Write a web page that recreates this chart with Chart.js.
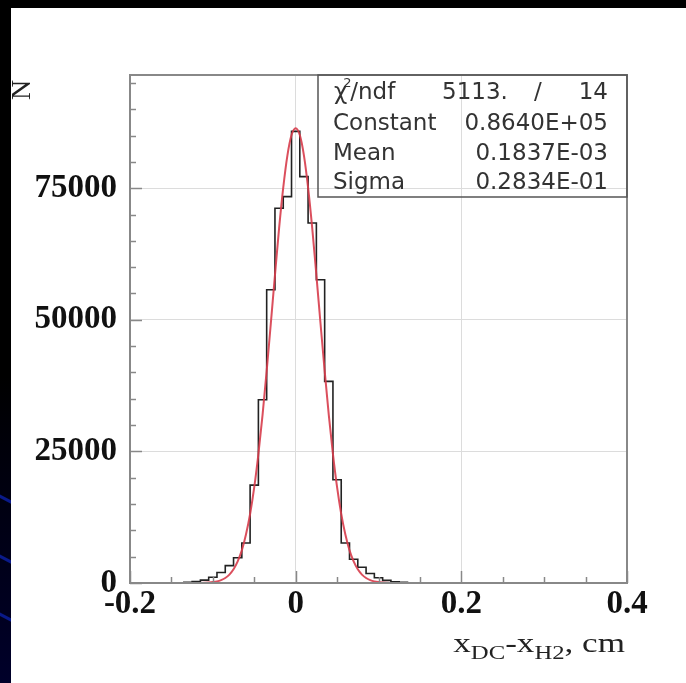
<!DOCTYPE html>
<html>
<head>
<meta charset="utf-8">
<script src="https://cdn.jsdelivr.net/npm/chart.js@4.4.0/dist/chart.umd.min.js"></script>
<style>
    body { margin: 0; width: 686px; height: 683px; background: #000; overflow: hidden; position: relative; }
    #strip { position: absolute; left: 0; top: 0; width: 11px; height: 683px; overflow: hidden;
             background: linear-gradient(#000 0%, #000 55%, #00002a 100%); }
    .streak { position: absolute; left: -10px; width: 40px; height: 3px; background: #0a1a8a; transform: rotate(28deg); }
    #panel { position: absolute; left: 11px; top: 8px; right: 0; bottom: 0; background: #fff; }
    #chart { position: absolute; left: 0; top: 0; }
</style>
</head>
<body>
<div id="strip">
    <div class="streak" style="top:500px"></div>
    <div class="streak" style="top:560px"></div>
    <div class="streak" style="top:618px"></div>
</div>
<div id="panel"></div>
<canvas id="chart" width="686" height="683"></canvas>
<script>
// Trục
const xMin = -0.2;
const xMax = 0.4;
const yMin = 0;
const yMax = 96500;
const xTicks = [-0.2, 0, 0.2, 0.4];
const yTicks = [0, 25000, 50000, 75000];

// Histogram: tâm bin (bề rộng 0.01) và số đếm
const binCenters = [-0.16, -0.15, -0.14, -0.13, -0.12, -0.11, -0.10, -0.09, -0.08, -0.07, -0.06,
    -0.05, -0.04, -0.03, -0.02, -0.01, 0, 0.01, 0.02, 0.03, 0.04, 0.05,
    0.06, 0.07, 0.08, 0.09, 0.10, 0.11, 0.12, 0.13, 0.14, 0.15, 0.16];
const binCounts = [0, 25, 60, 130, 280, 550, 1100, 2000, 3300, 4800, 7600,
    18600, 34800, 55700, 71200, 73400, 85800, 77200, 68400, 57600, 38300, 19600,
    7600, 4500, 3000, 1800, 1000, 500, 250, 120, 50, 20, 0];

// Đường fit (đỏ)
const fitX = [-0.13, -0.125, -0.12, -0.115, -0.11, -0.105, -0.1, -0.095, -0.09, -0.085, -0.08,
    -0.075, -0.07, -0.065, -0.06, -0.055, -0.05, -0.045, -0.04, -0.035, -0.03, -0.025,
    -0.02, -0.015, -0.01, -0.005, 0, 0.005, 0.01, 0.015, 0.02, 0.025, 0.03, 0.035,
    0.04, 0.045, 0.05, 0.055, 0.06, 0.065, 0.07, 0.075, 0.08, 0.085, 0.09, 0.095,
    0.1, 0.105, 0.11, 0.115, 0.12, 0.125, 0.13];
const fitY = [2, 5, 11, 22, 46, 90, 170, 310, 560, 950, 1600,
    2600, 4100, 6200, 9200, 13100, 18200, 24500, 31900, 40300, 49300, 58500,
    67400, 75100, 81200, 85100, 86400, 85100, 81200, 75100, 67400, 58500, 49300, 40300,
    31900, 24500, 18200, 13100, 9200, 6200, 4100, 2600, 1600, 950, 560, 310,
    170, 90, 46, 22, 11, 5, 2];

// Bảng thống kê
const statLabels = ['Constant', 'Mean', 'Sigma'];
const statValues = ['0.8640E+05', '0.1837E-03', '0.2834E-01'];
const chi2Value = '5113.';
const ndfValue = '14';

const serif = "'Liberation Serif', 'Times New Roman', serif";
const sans = "'DejaVu Sans', 'Liberation Sans', sans-serif";

function histPoints() {
    const pts = [{ x: xMin, y: 0 }];
    binCenters.forEach((x, i) => pts.push({ x: x, y: binCounts[i] }));
    pts.push({ x: xMax, y: 0 });
    return pts;
}

// Vẽ khung, vạch phụ, tiêu đề trục và hộp thống kê
const decorPlugin = {
    id: 'decor',
    afterDatasetsDraw(chart) {
        const ctx = chart.ctx;
        const a = chart.chartArea;
        const xs = chart.scales.x;
        const ys = chart.scales.y;
        ctx.save();

        // khung
        ctx.strokeStyle = '#888';
        ctx.lineWidth = 2;
        ctx.strokeRect(a.left, a.top, a.right - a.left, a.bottom - a.top);

        // vạch chia trong
        ctx.lineWidth = 1.5;
        for (let i = 0; i * 5000 <= yMax; i++) {
            const y = Math.round(ys.getPixelForValue(i * 5000)) + 0.5;
            const len = i % 5 === 0 ? 12 : 6;
            ctx.beginPath();
            ctx.moveTo(a.left, y);
            ctx.lineTo(a.left + len, y);
            ctx.stroke();
        }
        for (let i = 0; i <= 12; i++) {
            const x = Math.round(xs.getPixelForValue(xMin + i * 0.05)) + 0.5;
            const len = i % 4 === 0 ? 12 : 6;
            ctx.beginPath();
            ctx.moveTo(x, a.bottom);
            ctx.lineTo(x, a.bottom - len);
            ctx.stroke();
        }

        // tiêu đề trục y: N (xoay)
        ctx.fillStyle = '#222';
        ctx.font = '28px ' + serif;
        ctx.save();
        ctx.translate(23, 90);
        ctx.rotate(-Math.PI / 2);
        ctx.textAlign = 'center';
        ctx.textBaseline = 'middle';
        ctx.fillText('N', 0, 0);
        ctx.restore();

        // tiêu đề trục x: x_DC - x_H2, cm
        const parts = [
            { t: 'x', sub: false }, { t: 'DC', sub: true },
            { t: '-x', sub: false }, { t: 'H2', sub: true },
            { t: ', cm', sub: false }
        ];
        const big = '27px ' + serif;
        const small = '19px ' + serif;
        let w = 0;
        parts.forEach(p => { ctx.font = p.sub ? small : big; w += ctx.measureText(p.t).width; });
        const sx = 1.3;
        ctx.save();
        ctx.translate(a.right - 2 - w * sx, 652);
        ctx.scale(sx, 1);
        ctx.textBaseline = 'alphabetic';
        let cx = 0;
        parts.forEach(p => {
            ctx.font = p.sub ? small : big;
            ctx.fillText(p.t, cx, p.sub ? 7 : 0);
            cx += ctx.measureText(p.t).width;
        });
        ctx.restore();

        // hộp thống kê
        const bx = 318, by = a.top, bw = a.right - 318, bh = 122;
        ctx.strokeStyle = '#555';
        ctx.lineWidth = 1.5;
        ctx.strokeRect(bx, by, bw, bh);
        ctx.fillStyle = '#333';
        ctx.font = '23px ' + sans;
        ctx.textBaseline = 'alphabetic';
        const rows = [99, 130, 160, 189];
        const lx = 334, rx = 608;
        // dòng 1
        ctx.textAlign = 'left';
        ctx.fillText('\u03C7', lx, rows[0]);
        const chiW = ctx.measureText('\u03C7').width;
        ctx.font = '13px ' + sans;
        ctx.fillText('2', lx + chiW - 4, rows[0] - 12);
        ctx.font = '23px ' + sans;
        ctx.fillText('/ndf', lx + chiW + 3, rows[0]);
        ctx.fillText(chi2Value, 442, rows[0]);
        ctx.fillText('/', 534, rows[0]);
        ctx.textAlign = 'right';
        ctx.fillText(ndfValue, rx, rows[0]);
        statLabels.forEach((lab, i) => {
            ctx.textAlign = 'left';
            ctx.fillText(lab, lx - 1, rows[i + 1]);
            ctx.textAlign = 'right';
            ctx.fillText(statValues[i], rx, rows[i + 1]);
        });
        ctx.restore();
    }
};

const ctx = document.getElementById('chart').getContext('2d');
window.histChart = new Chart(ctx, {
    type: 'line',
    data: {
        datasets: [{
            label: 'fit',
            data: fitX.map((x, i) => ({ x: x, y: fitY[i] })),
            borderColor: 'rgba(215, 60, 75, 0.9)',
            borderWidth: 2,
            pointRadius: 0,
            cubicInterpolationMode: 'monotone',
            fill: false
        }, {
            label: 'hist',
            data: histPoints(),
            borderColor: '#222',
            borderWidth: 1.6,
            pointRadius: 0,
            stepped: 'middle',
            fill: false
        }]
    },
    options: {
        responsive: false,
        animation: false,
        events: [],
        layout: { padding: { left: 10, top: 75, right: 59, bottom: 0 } },
        plugins: {
            legend: { display: false },
            tooltip: { enabled: false }
        },
        scales: {
            x: {
                type: 'linear',
                min: xMin,
                max: xMax,
                afterBuildTicks: scale => { scale.ticks = xTicks.map(v => ({ value: v })); },
                afterFit: scale => { scale.height = 100; },
                grid: { color: '#dcdcdc', lineWidth: 1, drawTicks: false },
                border: { color: '#888', width: 2 },
                ticks: {
                    padding: 2,
                    maxRotation: 0,
                    color: '#111',
                    font: { family: serif, size: 33, weight: 'bold' },
                    callback: v => String(Math.round(v * 10) / 10)
                }
            },
            y: {
                type: 'linear',
                min: yMin,
                max: yMax,
                afterBuildTicks: scale => { scale.ticks = yTicks.map(v => ({ value: v })); },
                afterFit: scale => { scale.width = 120; },
                grid: { color: '#dcdcdc', lineWidth: 1, drawTicks: false },
                border: { color: '#888', width: 2 },
                ticks: {
                    padding: 13,
                    color: '#111',
                    font: { family: serif, size: 33, weight: 'bold' },
                    callback: v => String(v)
                }
            }
        }
    },
    plugins: [decorPlugin]
});
</script>
</body>
</html>
